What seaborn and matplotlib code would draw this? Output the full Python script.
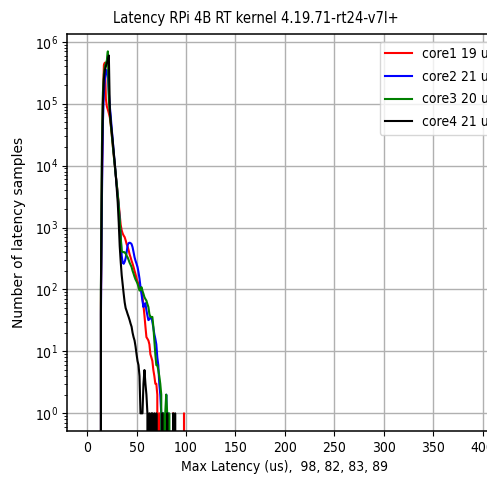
import matplotlib
matplotlib.use("Agg")
import matplotlib.pyplot as plt
from matplotlib.lines import Line2D
import pandas as pd
import seaborn as sns

# Latency histogram: number of samples per 1 us bin (0..99 us) for each core
latency_us = list(range(100))

core1_counts = [
    0, 0, 0, 0, 0, 0, 0, 0, 0, 0,
    0, 0, 0, 0, 60, 5000, 120000, 420000, 460000, 120000,
    90000, 80000, 70000, 60000, 45000, 31000, 21000, 14500, 10000, 7000,
    5000, 3500, 2400, 1600, 1100, 900, 800, 740, 700, 620,
    540, 490, 430, 370, 330, 290, 260, 230, 200, 175,
    150, 135, 122, 110, 100, 96, 75, 55, 38, 25,
    17, 16, 15, 13, 9, 8, 7, 5, 4, 3,
    3, 2, 0, 1, 0, 0, 0, 0, 0, 0,
    0, 0, 0, 0, 0, 0, 0, 1, 0, 0,
    0, 0, 0, 0, 0, 0, 0, 0, 1, 0,
]

core2_counts = [
    0, 0, 0, 0, 0, 0, 0, 0, 0, 0,
    0, 0, 0, 0, 40, 3000, 50000, 150000, 250000, 300000,
    350000, 300000, 150000, 90000, 60000, 38000, 25000, 16000, 10500, 7000,
    4800, 3300, 2200, 1300, 700, 350, 270, 260, 280, 320,
    400, 520, 560, 570, 560, 540, 480, 400, 330, 290,
    260, 230, 190, 150, 110, 85, 65, 52, 58, 60,
    46, 38, 32, 33, 35, 36, 30, 24, 19, 16,
    13, 8, 6, 3, 2, 1, 0, 1, 0, 0,
    2, 0, 1, 0, 0, 0, 0, 0, 0, 0,
    0, 0, 0, 0, 0, 0, 0, 0, 0, 0,
]

core3_counts = [
    0, 0, 0, 0, 0, 0, 0, 0, 0, 0,
    0, 0, 0, 0, 100, 20000, 150000, 300000, 400000, 450000,
    500000, 700000, 120000, 70000, 45000, 31000, 21000, 14500, 10000, 7000,
    5000, 3400, 2200, 1300, 700, 420, 400, 400, 400, 380,
    350, 330, 300, 270, 250, 230, 200, 180, 160, 145,
    135, 124, 110, 96, 100, 109, 95, 85, 75, 70,
    66, 58, 52, 40, 36, 36, 36, 25, 15, 9,
    6, 6, 5, 4, 3, 2, 0, 1, 0, 1,
    2, 1, 0, 1, 0, 0, 0, 0, 0, 0,
    0, 0, 0, 0, 0, 0, 0, 0, 0, 0,
]

core4_counts = [
    0, 0, 0, 0, 0, 0, 0, 0, 0, 0,
    0, 0, 0, 0, 100, 10000, 100000, 250000, 350000, 400000,
    450000, 500000, 600000, 80000, 50000, 35000, 24000, 16000, 11000, 7000,
    4200, 2500, 1200, 500, 280, 170, 120, 85, 62, 50,
    45, 40, 36, 32, 28, 25, 20, 17, 15, 12,
    9, 7, 6, 4, 1, 1, 1, 3, 5, 3,
    2, 1, 0, 1, 0, 1, 1, 0, 1, 0,
    1, 0, 0, 0, 0, 0, 1, 0, 0, 0,
    0, 1, 0, 0, 0, 0, 0, 1, 0, 1,
    0, 0, 0, 0, 0, 0, 0, 0, 0, 0,
]

core_names = ["core1", "core2", "core3", "core4"]
avg_latency_us = [19, 21, 20, 21]
max_latency_us = [98, 82, 83, 89]
core_colors = ["red", "blue", "green", "black"]
x_ticks = [0, 50, 100, 150, 200, 250, 300, 350, 400]

df = pd.concat(
    [
        pd.DataFrame({"latency": latency_us, "count": counts, "core": name})
        for name, counts in zip(
            core_names, [core1_counts, core2_counts, core3_counts, core4_counts]
        )
    ],
    ignore_index=True,
)

plt.rcParams["font.family"] = ["DejaVu Sans"]
plt.rcParams["font.stretch"] = "condensed"

W, H, DPI = 487, 478, 100
fig = plt.figure(figsize=(W / DPI, H / DPI), dpi=DPI)
left, right, top, bottom = 67.3, 502.5, 33.5, 431.0
ax = fig.add_axes([left / W, 1 - bottom / H, (right - left) / W, (bottom - top) / H])

sns.lineplot(
    data=df, x="latency", y="count", hue="core", hue_order=core_names,
    palette=core_colors, estimator=None, legend=False, linewidth=1.5, ax=ax,
)

ax.set_yscale("log")
ax.set_xlim(-20, 420)
ax.set_ylim(0.518, 1.36e6)
ax.set_xticks(x_ticks)
ax.grid(True, which="major", color="#b0b0b0", linewidth=1.0)
ax.set_axisbelow(True)
for s in ax.spines.values():
    s.set_linewidth(1.1)
    s.set_color("black")
ax.tick_params(labelsize=10)

ax.set_xlabel("Max Latency (us),  " + ", ".join(str(v) for v in max_latency_us),
              fontsize=10)
ax.set_ylabel("Number of latency samples", fontsize=10, fontstretch="normal",
              labelpad=6)

fig.text(256 / W, 1 - 18 / H, "Latency RPi 4B RT kernel 4.19.71-rt24-v7l+",
         ha="center", va="center", fontsize=10.5)

handles = [Line2D([], [], color=c, linewidth=1.5) for c in core_colors]
labels = [f"{n} {a} us" for n, a in zip(core_names, avg_latency_us)]
ax.legend(handles, labels, loc="upper left",
          bbox_to_anchor=(379.7 / W, 1 - 41.7 / H), bbox_transform=fig.transFigure,
          borderaxespad=0, handlelength=1.95, handletextpad=0.7, labelspacing=0.62,
          fontsize=10, framealpha=0.8)

fig.savefig("out.png", dpi=DPI)
